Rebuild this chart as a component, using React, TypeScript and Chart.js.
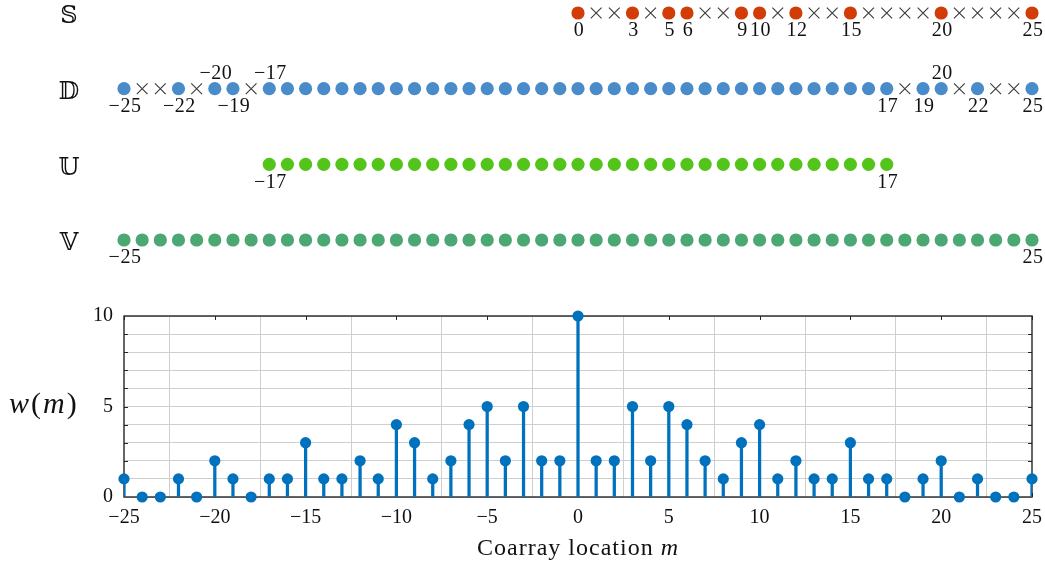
import React, { useEffect, useRef } from "react";
import { Chart, registerables } from "chart.js";

Chart.register(...registerables);

// ---- data ----
const lags = [
  -25, -24, -23, -22, -21, -20, -19, -18, -17, -16, -15, -14, -13, -12, -11, -10, -9, -8, -7, -6, -5, -4, -3, -2, -1,
  0, 1, 2, 3, 4, 5, 6, 7, 8, 9, 10, 11, 12, 13, 14, 15, 16, 17, 18, 19, 20, 21, 22, 23, 24, 25,
];
const weights = [
  1, 0, 0, 1, 0, 2, 1, 0, 1, 1, 3, 1, 1, 2, 1, 4, 3, 1, 2, 4, 5, 2, 5, 2, 2,
  10, 2, 2, 5, 2, 5, 4, 2, 1, 3, 4, 1, 2, 1, 1, 3, 1, 1, 0, 1, 2, 0, 1, 0, 0, 1,
];

const sensorSet = [0, 3, 5, 6, 9, 10, 12, 15, 20, 25];
const sensorGaps = [1, 2, 4, 7, 8, 11, 13, 14, 16, 17, 18, 19, 21, 22, 23, 24];
const diffSet = [
  -25, -22, -20, -19, -17, -16, -15, -14, -13, -12, -11, -10, -9, -8, -7, -6, -5, -4, -3, -2, -1,
  0, 1, 2, 3, 4, 5, 6, 7, 8, 9, 10, 11, 12, 13, 14, 15, 16, 17, 19, 20, 22, 25,
];
const diffHoles = [-24, -23, -21, -18, 18, 21, 23, 24];
const centralSet = [
  -17, -16, -15, -14, -13, -12, -11, -10, -9, -8, -7, -6, -5, -4, -3, -2, -1,
  0, 1, 2, 3, 4, 5, 6, 7, 8, 9, 10, 11, 12, 13, 14, 15, 16, 17,
];
const virtualSet = lags;

const sensorLabels = [0, 3, 5, 6, 9, 10, 12, 15, 20, 25];
const diffLabelsBelow = [-25, -22, -19, 17, 19, 22, 25];
const diffLabelsAbove = [-20, -17, 20];
const centralLabels = [-17, 17];
const virtualLabels = [-25, 25];

const rowNames = ["𝕊", "𝔻", "𝕌", "𝕍"];
const rowLevels = [3, 2, 1, 0];

const xTicks = [-25, -20, -15, -10, -5, 0, 5, 10, 15, 20, 25];
const yMajorTicks = [0, 5, 10];

// ---- styling ----
const W = 1045;
const H = 563;
const TOP_H = 290;
const AREA_LEFT = 124;
const AREA_RIGHT = 1032;
const SERIF = '"Liberation Serif", serif';
const NUM_FONT = "20px " + SERIF;
const RED = "#D23C06";
const BLUE = "#4A8BCA";
const LIME = "#52C41A";
const GREEN = "#4CA872";
const STEM = "#0072BD";
const FRAME = "#262626";
const GRID = "#cfcfcf";

const fmt = (v: number) => (v < 0 ? "\u2212" + Math.abs(v) : String(v));

function pts(xs: number[], level: number) {
  return xs.map((x) => ({ x, y: level }));
}

const rowTextPlugin = {
  id: "rowText",
  afterDatasetsDraw(chart: any) {
    const { ctx, chartArea, scales } = chart;
    const xs = scales.x;
    const ys = scales.y;
    ctx.save();
    ctx.fillStyle = "#111";
    ctx.textBaseline = "middle";
    ctx.textAlign = "center";
    ctx.font = '24px "DejaVu Serif", "DejaVu Sans", serif';
    rowNames.forEach((name, i) => {
      ctx.fillText(name, chartArea.left - 55, ys.getPixelForValue(rowLevels[i]) + 4);
    });
    ctx.font = NUM_FONT;
    ctx.letterSpacing = "0.5px";
    const put = (vals: number[], level: number, dy: number) => {
      const y = ys.getPixelForValue(level) + dy;
      vals.forEach((v) => {
        ctx.fillText(fmt(v), xs.getPixelForValue(v) + 1, y);
      });
    };
    put(sensorLabels, 3, 18);
    put(diffLabelsBelow, 2, 18);
    put(diffLabelsAbove, 2, -15);
    put(centralLabels, 1, 18);
    put(virtualLabels, 0, 18);
    ctx.restore();
  },
};

const framePlugin = {
  id: "frame",
  beforeDatasetsDraw(chart: any) {
    const { ctx, chartArea, scales } = chart;
    const { left, right, top, bottom } = chartArea;
    ctx.save();
    ctx.strokeStyle = FRAME;
    ctx.lineWidth = 1;
    const tl = 4;
    ctx.beginPath();
    xTicks.forEach((v) => {
      const x = Math.round(scales.x.getPixelForValue(v)) + 0.5;
      ctx.moveTo(x, bottom);
      ctx.lineTo(x, bottom - tl);
      ctx.moveTo(x, top);
      ctx.lineTo(x, top + tl);
    });
    for (let v = 1; v < 10; v++) {
      const y = Math.round(scales.y.getPixelForValue(v)) + 0.5;
      ctx.moveTo(left, y);
      ctx.lineTo(left + tl, y);
      ctx.moveTo(right, y);
      ctx.lineTo(right - tl, y);
    }
    ctx.stroke();
    ctx.lineWidth = 1.4;
    ctx.strokeRect(left, top, right - left, bottom - top);
    ctx.restore();
  },
  afterDraw(chart: any) {
    const { ctx, chartArea } = chart;
    ctx.save();
    ctx.fillStyle = "#111";
    ctx.textBaseline = "middle";
    ctx.textAlign = "left";

    // y-axis name: italic letters, upright parentheses
    const yl = [
      { t: "w", f: "italic 30px " + SERIF },
      { t: "(", f: "30px " + SERIF },
      { t: "m", f: "italic 30px " + SERIF },
      { t: ")", f: "30px " + SERIF },
    ];
    let x = 9;
    const ym = (chartArea.top + chartArea.bottom) / 2 - 1;
    yl.forEach((p) => {
      ctx.font = p.f;
      ctx.fillText(p.t, x, ym);
      x += ctx.measureText(p.t).width + 2;
    });

    // x-axis name
    const cx = (chartArea.left + chartArea.right) / 2;
    const y = chartArea.bottom + 52;
    ctx.letterSpacing = "1px";
    ctx.font = "24px " + SERIF;
    const a = "Coarray location ";
    const wa = ctx.measureText(a).width;
    ctx.font = "italic 24px " + SERIF;
    const wb = ctx.measureText("m").width;
    const x0 = cx - (wa + wb) / 2;
    ctx.font = "24px " + SERIF;
    ctx.fillText(a, x0, y);
    ctx.font = "italic 24px " + SERIF;
    ctx.fillText("m", x0 + wa, y);
    ctx.restore();
  },
};

export default function App() {
  const topRef = useRef<HTMLCanvasElement | null>(null);
  const botRef = useRef<HTMLCanvasElement | null>(null);

  useEffect(() => {
    const dot = (data: any[], color: string) => ({
      data,
      pointRadius: 6.6,
      pointStyle: "circle",
      backgroundColor: color,
      borderWidth: 0,
      clip: false,
    });
    const cross = (data: any[]) => ({
      data,
      pointRadius: 7.6,
      pointStyle: "crossRot",
      borderColor: "#3a3a3a",
      borderWidth: 1.1,
      backgroundColor: "transparent",
      clip: false,
    });
    const top = new Chart(topRef.current as HTMLCanvasElement, {
      type: "scatter",
      data: {
        datasets: [
          dot(pts(sensorSet, 3), RED),
          cross(pts(sensorGaps, 3)),
          dot(pts(diffSet, 2), BLUE),
          cross(pts(diffHoles, 2)),
          dot(pts(centralSet, 1), LIME),
          dot(pts(virtualSet, 0), GREEN),
        ] as any,
      },
      options: {
        responsive: false,
        animation: false,
        events: [],
        layout: { padding: { left: AREA_LEFT, right: W - AREA_RIGHT, top: 13, bottom: TOP_H - 240 } },
        scales: {
          x: { type: "linear", min: -25, max: 25, display: false },
          y: { type: "linear", min: 0, max: 3, display: false },
        },
        plugins: { legend: { display: false }, tooltip: { enabled: false } },
      },
      plugins: [rowTextPlugin],
    });

    const stemData = lags.map((m, i) => ({ x: m, y: weights[i] }));
    const bottom = new Chart(botRef.current as HTMLCanvasElement, {
      type: "bar",
      data: {
        datasets: [
          {
            type: "scatter",
            data: stemData,
            pointRadius: 5.6,
            backgroundColor: STEM,
            borderWidth: 0,
            clip: false,
            order: 0,
          },
          {
            type: "bar",
            data: stemData,
            backgroundColor: STEM,
            barThickness: 2.6,
            grouped: false,
            order: 1,
          },
        ] as any,
      },
      options: {
        responsive: false,
        animation: false,
        events: [],
        layout: { padding: { left: 0, right: W - AREA_RIGHT, top: 316 - TOP_H, bottom: 0 } },
        scales: {
          x: {
            type: "linear",
            min: -25,
            max: 25,
            offset: false,
            afterBuildTicks: (s: any) => {
              s.ticks = xTicks.map((v) => ({ value: v }));
            },
            afterFit: (s: any) => {
              s.height = H - TOP_H - (497 - TOP_H);
              // end labels may overhang the plot box; keep the box where the layout padding puts it
              s.paddingLeft = 0;
              s.paddingRight = 0;
            },
            ticks: {
              callback: (v: any) => fmt(Number(v)),
              font: { family: SERIF, size: 20 },
              color: "#111",
              padding: 9,
              maxRotation: 0,
              autoSkip: false,
            },
            grid: { color: GRID, lineWidth: 1, drawTicks: false },
            border: { display: false },
          },
          y: {
            type: "linear",
            min: 0,
            max: 10,
            afterBuildTicks: (s: any) => {
              s.ticks = [0, 1, 2, 3, 4, 5, 6, 7, 8, 9, 10].map((v) => ({ value: v }));
            },
            afterFit: (s: any) => {
              s.width = AREA_LEFT;
              s.paddingTop = 0;
              s.paddingBottom = 0;
            },
            ticks: {
              callback: (v: any) => (yMajorTicks.includes(Number(v)) ? fmt(Number(v)) : ""),
              font: { family: SERIF, size: 20 },
              color: "#111",
              padding: 11,
              autoSkip: false,
            },
            grid: { color: GRID, lineWidth: 1, drawTicks: false },
            border: { display: false },
          },
        },
        plugins: { legend: { display: false }, tooltip: { enabled: false } },
      },
      plugins: [framePlugin],
    });

    return () => {
      top.destroy();
      bottom.destroy();
    };
  }, []);

  return (
    <div style={{ position: "absolute", left: 0, top: 0, width: W, height: H, background: "#fff" }}>
      <canvas ref={topRef} width={W} height={TOP_H} style={{ position: "absolute", left: 0, top: 0 }} />
      <canvas ref={botRef} width={W} height={H - TOP_H} style={{ position: "absolute", left: 0, top: TOP_H }} />
    </div>
  );
}
